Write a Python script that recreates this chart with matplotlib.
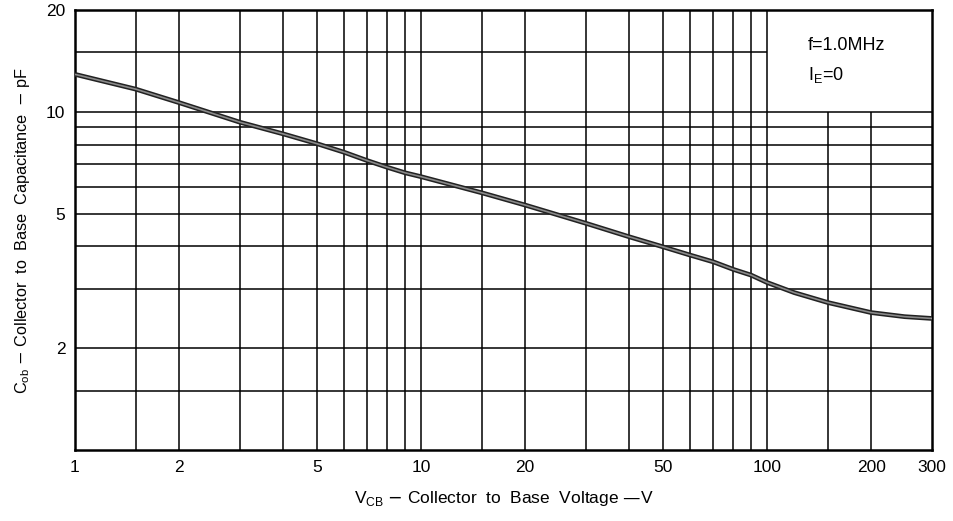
import matplotlib
matplotlib.use("Agg")
import matplotlib.pyplot as plt
import numpy as np

plt.rcParams['font.family'] = ['Liberation Sans', 'DejaVu Sans']

# Curve data
vcb = [1, 1.5, 2, 3, 4, 5, 6, 7, 8, 9, 10, 15, 20, 30, 40, 50, 60, 70, 80, 90, 100,
       120, 150, 200, 250, 300]
cob = [12.9, 11.66, 10.64, 9.31, 8.6, 8.05, 7.59, 7.17, 6.85, 6.6, 6.43, 5.76, 5.3,
       4.68, 4.27, 3.99, 3.77, 3.6, 3.42, 3.29, 3.13, 2.92, 2.73, 2.55, 2.48, 2.45]

# Axis ticks / grid
x_ticks = [1, 2, 5, 10, 20, 50, 100, 200, 300]
x_ticklabels = ["1", "2", "5", "10", "20", "50", "100", "200", "300"]
y_ticks = [2, 5, 10, 20]
y_ticklabels = ["2", "5", "10", "20"]
x_grid_full = [1.5, 2, 3, 4, 5, 6, 7, 8, 9, 10, 15, 20, 30, 40, 50, 60, 70, 80, 90, 100]
x_grid_partial = [150, 200]   # stop below the annotation box
y_grid_full = [1.5, 2, 3, 4, 5, 6, 7, 8, 9, 10]
y_grid_partial = [15]         # stops at the annotation box

fig = plt.figure(figsize=(9.54, 5.21), dpi=100)
ax = fig.add_axes([0.0786, 0.136, 0.8984, 0.845])
ax.set_xscale('log')
ax.set_yscale('log')
ax.set_xlim(1, 300)
ax.set_ylim(1, 20)

gkw = dict(color='black', lw=1.1, zorder=1)
ax.vlines(x_grid_full, 1, 20, **gkw)
ax.vlines(x_grid_partial, 1, 10, **gkw)
ax.hlines(y_grid_full, 1, 300, **gkw)
ax.hlines(y_grid_partial, 1, 100, **gkw)

ax.plot(vcb, cob, color='#222222', lw=3.4, zorder=3, solid_capstyle='butt',
        solid_joinstyle='round')
ax.plot(vcb, cob, color='#8a8a8a', lw=1.2, zorder=4, solid_capstyle='butt',
        solid_joinstyle='round')

for s in ax.spines.values():
    s.set_linewidth(1.8)
    s.set_color('black')

ax.xaxis.set_minor_locator(matplotlib.ticker.NullLocator())
ax.yaxis.set_minor_locator(matplotlib.ticker.NullLocator())
ax.set_xticks(x_ticks)
ax.set_xticklabels(x_ticklabels)
ax.set_yticks(y_ticks)
ax.set_yticklabels(y_ticklabels)
ax.tick_params(axis='both', length=0, labelsize=12.5, pad=7)

ax.set_xlabel(r"V$_{\mathregular{CB}}$ $-$ Collector  to  Base  Voltage —V", fontsize=12.5, labelpad=10)
ax.set_ylabel(r"C$_{\mathregular{ob}}$ $-$ Collector  to  Base  Capacitance  $-$ pF", fontsize=11.7, labelpad=10)

fig.text(808 / 954, 1 - 45 / 521, "f=1.0MHz", fontsize=13, ha='left', va='center')
fig.text(808 / 954, 1 - 75 / 521, r"I$_{\mathregular{E}}$=0", fontsize=13, ha='left', va='center')

fig.savefig("out.png", dpi=100)
